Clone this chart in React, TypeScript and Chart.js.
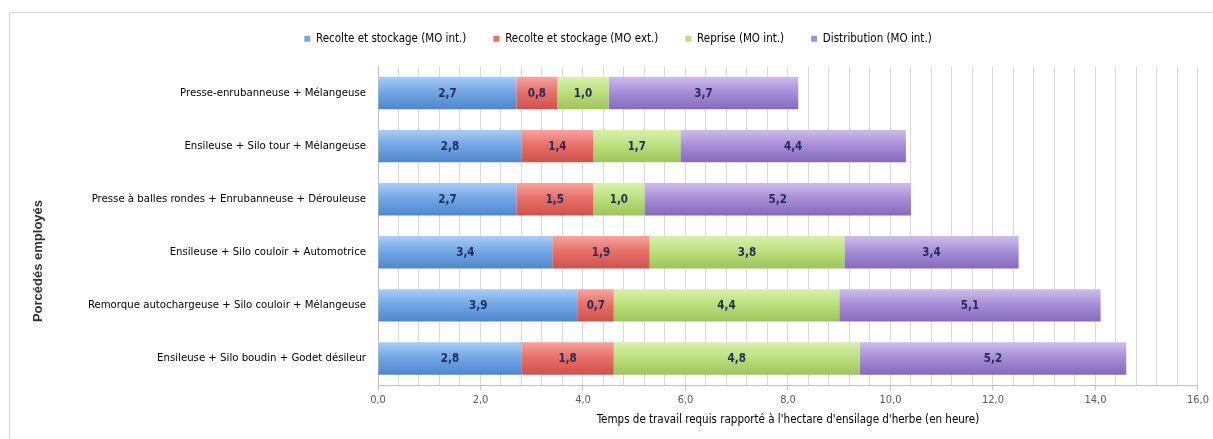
import React, { useEffect, useRef } from "react";
import { Chart, registerables, Plugin } from "chart.js";

Chart.register(...registerables);

const categories = [
  "Presse-enrubanneuse + Mélangeuse",
  "Ensileuse + Silo tour + Mélangeuse",
  "Presse à balles rondes + Enrubanneuse + Dérouleuse",
  "Ensileuse + Silo couloir + Automotrice",
  "Remorque autochargeuse + Silo couloir + Mélangeuse",
  "Ensileuse + Silo boudin + Godet désileur",
];

const recolteInt = [2.7, 2.8, 2.7, 3.4, 3.9, 2.8];
const recolteExt = [0.8, 1.4, 1.5, 1.9, 0.7, 1.8];
const reprise = [1.0, 1.7, 1.0, 3.8, 4.4, 4.8];
const distribution = [3.7, 4.4, 5.2, 3.4, 5.1, 5.2];

const seriesNames = [
  "Recolte et stockage (MO int.)",
  "Recolte et stockage (MO ext.)",
  "Reprise (MO int.)",
  "Distribution (MO int.)",
];

const xMin = 0;
const xMax = 16;
const xStep = 0.4;

const NARROW = "'DejaVu Sans Condensed', 'Liberation Sans Narrow', sans-serif";
const BAR_PCT = 0.61;

// top / middle / bottom shades of each series
const palette = [
  ["#aacdf4", "#74a8e6", "#4f86cc"],
  ["#f4a6a0", "#e8716a", "#d0524c"],
  ["#d9f0ae", "#bde07f", "#9cc55a"],
  ["#cdbdec", "#a890d8", "#8669bd"],
];

const fmt = (v: number) => v.toFixed(1).replace(".", ",");

const barFill = (shades: string[]) => (ctx: any) => {
  const chart = ctx.chart;
  const y = chart.scales?.y;
  if (ctx.type !== "data" || !y || !y.height) return shades[1];
  const center = y.getPixelForValue(ctx.dataIndex);
  const half = (y.height / categories.length) * BAR_PCT / 2;
  const g = chart.ctx.createLinearGradient(0, center - half, 0, center + half);
  g.addColorStop(0, shades[0]);
  g.addColorStop(0.45, shades[1]);
  g.addColorStop(1, shades[2]);
  return g;
};

const valueLabels: Plugin<"bar"> = {
  id: "valueLabels",
  afterDatasetsDraw(chart) {
    const c = chart.ctx;
    c.save();
    c.font = `bold 11.5px ${NARROW}`;
    c.fillStyle = "#1f2d5a";
    c.textAlign = "center";
    c.textBaseline = "middle";
    chart.data.datasets.forEach((ds, di) => {
      const meta = chart.getDatasetMeta(di);
      meta.data.forEach((el: any, i) => {
        const v = ds.data[i] as number;
        c.fillText(fmt(v), (el.x + el.base) / 2, el.y + 1);
      });
    });
    c.restore();
  },
};

const yTitle: Plugin<"bar"> = {
  id: "yTitle",
  afterDraw(chart) {
    const c = chart.ctx;
    c.save();
    c.translate(38, 261);
    c.rotate(-Math.PI / 2);
    c.font = "bold 13px 'Liberation Sans', sans-serif";
    c.fillStyle = "#333333";
    c.textAlign = "center";
    c.textBaseline = "middle";
    c.fillText("Porcédés employés", 0, 0);
    c.restore();
  },
};

export default function App() {
  const canvas = useRef<HTMLCanvasElement>(null);

  useEffect(() => {
    const context2d = canvas.current?.getContext("2d");
    if (!context2d) return;
    const series = [recolteInt, recolteExt, reprise, distribution];
    const chart = new Chart(context2d, {
      type: "bar",
      data: {
        labels: categories,
        datasets: series.map((data, i) => ({
          label: seriesNames[i],
          data,
          backgroundColor: barFill(palette[i]),
          borderWidth: 0,
          categoryPercentage: 1,
          barPercentage: BAR_PCT,
        })),
      },
      options: {
        indexAxis: "y",
        animation: false,
        responsive: false,
        layout: { padding: { top: 6, left: 36, right: 13, bottom: 0 } },
        scales: {
          x: {
            stacked: true,
            min: xMin,
            max: xMax,
            afterFit: (scale: any) => { scale.height = 54; },
            ticks: {
              stepSize: xStep,
              autoSkip: false,
              maxRotation: 0,
              padding: 4,
              color: "#595959",
              font: { family: NARROW, size: 11 },
              callback: (value: any) => {
                const v = Number(value);
                return Math.abs(v / 2 - Math.round(v / 2)) < 1e-6 ? fmt(v) : "";
              },
            },
            grid: {
              color: "#d9d9d9",
              tickLength: 5,
              tickColor: (ctx: any) => {
                const v = ctx.tick?.value ?? 0;
                return Math.abs(v / 2 - Math.round(v / 2)) < 1e-6 ? "#bfbfbf" : "rgba(0,0,0,0)";
              },
            },
            border: { color: "#bfbfbf" },
            title: {
              display: true,
              text: "Temps de travail requis rapporté à l'hectare d'ensilage d'herbe (en heure)",
              color: "#000000",
              font: { family: NARROW, size: 11.5 },
              padding: { top: 0, bottom: 12 },
            },
          },
          y: {
            stacked: true,
            afterFit: (scale: any) => { scale.width = 342; },
            ticks: {
              padding: 12,
              color: "#000000",
              font: { family: NARROW, size: 11.3 },
            },
            grid: { display: false, drawTicks: false },
            border: { display: true, color: "#bfbfbf" },
          },
        },
        plugins: {
          legend: {
            position: "top",
            weight: 3000,
            labels: {
              boxWidth: 6,
              boxHeight: 6,
              padding: 27,
              color: "#000000",
              font: { family: NARROW, size: 11.5 },
              generateLabels: (ch: any) => {
                const items = Chart.defaults.plugins.legend.labels.generateLabels(ch);
                return items.map((it: any, i: number) => ({
                  ...it,
                  fillStyle: palette[i][1],
                  strokeStyle: palette[i][1],
                  lineWidth: 0,
                }));
              },
            },
          } as any,
          title: {
            display: true,
            text: " ",
            font: { size: 1, lineHeight: 1 },
            padding: { top: 0, bottom: 11 },
          },
          tooltip: { enabled: false },
        },
      },
      plugins: [valueLabels, yTitle],
    });
    return () => chart.destroy();
  });

  return (
    <div style={{ position: "fixed", left: 0, top: 0, width: 1213, height: 439, background: "#fff", overflow: "hidden" }}>
      <canvas ref={canvas} width={1213} height={439} style={{ display: "block" }} />
      <div style={{
        position: "absolute", left: 9, top: 12, width: 1203, height: 460,
        border: "1px solid #d4d4d4", pointerEvents: "none",
      }} />
    </div>
  );
}
